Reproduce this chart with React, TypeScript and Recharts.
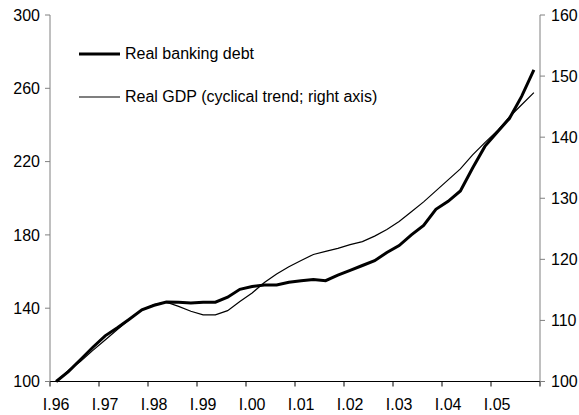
import { LineChart, Line, XAxis, YAxis, Legend } from 'recharts'

const YEARS = ['I.96', 'I.97', 'I.98', 'I.99', 'I.00', 'I.01', 'I.02', 'I.03', 'I.04', 'I.05']

// quarterly, I.96 .. IV.05 (left axis)
const DEBT = [
  100, 105.4, 112, 118.7, 124.9, 129.3, 134.1, 139.1, 141.6, 143.4,
  143.3, 142.8, 143.3, 143.3, 146, 150.3, 151.8, 152.7, 152.7, 154.2,
  155, 155.7, 155, 158, 160.6, 163.3, 165.9, 170.4, 174.2, 180,
  185.2, 194, 198.3, 204, 216.5, 228.3, 236, 243.5, 255.6, 270,
]

// quarterly, right axis
const GDP = [
  100, 101.8, 103.3, 105.1, 106.8, 108.5, 110.2, 111.7, 112.6, 113,
  112.3, 111.5, 110.9, 110.9, 111.6, 113.1, 114.5, 116.2, 117.6, 118.8,
  119.8, 120.8, 121.3, 121.8, 122.4, 122.9, 123.8, 124.9, 126.2, 127.8,
  129.4, 131.2, 133, 134.8, 137.1, 139.1, 141, 143.3, 145.3, 147.3,
]

const LEFT_TICKS = [100, 140, 180, 220, 260, 300]
const RIGHT_TICKS = [100, 110, 120, 130, 140, 150, 160]

const FONT = '"Liberation Sans", Arial, sans-serif'
const W = 579
const H = 415
const LEFT_W = 50
const RIGHT_W = 39
const N = DEBT.length
const HALF_Q = (W - LEFT_W - RIGHT_W) / N / 2

const data = DEBT.map((d, i) => ({ i, debt: d, gdp: GDP[i] }))
// tick marks sit between years, labels go under the first quarter
const xTicks = Array.from({ length: YEARS.length + 1 }, (_, k) => k * 4 - 0.5)

const SERIES_ORDER = ['debt', 'gdp']
const WIDTHS: Record<string, number> = { debt: 3, gdp: 1.2 }

function XTick(props: any) {
  const { x, y, payload } = props
  const label = YEARS[(payload.value + 0.5) / 4] ?? ''
  return (
    <text x={x + HALF_Q} y={y} dy="0.71em" textAnchor="middle" fill="#000" fontSize={16} fontFamily={FONT}>
      {label}
    </text>
  )
}

function LegendBox(props: any) {
  const items = [...(props.payload ?? [])].sort(
    (a: any, b: any) => SERIES_ORDER.indexOf(a.dataKey) - SERIES_ORDER.indexOf(b.dataKey),
  )
  return (
    <div style={{ fontFamily: FONT, fontSize: 16, color: '#000' }}>
      {items.map((p: any) => (
        <div key={p.dataKey} style={{ display: 'flex', alignItems: 'center', height: 43 }}>
          <svg width={46} height={10}>
            <line x1={0} x2={41} y1={5} y2={5} stroke="#000" strokeWidth={WIDTHS[p.dataKey]} />
          </svg>
          <span style={{ whiteSpace: 'nowrap' }}>{p.value}</span>
        </div>
      ))}
    </div>
  )
}

export default function App() {
  return (
    <div style={{ position: 'absolute', left: 0, top: 0, background: '#fff' }}>
      <LineChart width={W} height={H} data={data} margin={{ top: 15, right: 0, left: 0, bottom: 0 }}>
        <XAxis
          dataKey="i"
          type="number"
          domain={[-0.5, N - 0.5]}
          ticks={xTicks}
          tick={<XTick />}
          tickSize={5}
          tickMargin={12}
          height={33.5}
          axisLine={{ stroke: '#000' }}
          tickLine={{ stroke: '#000' }}
          interval={0}
        />
        <YAxis
          yAxisId="left"
          domain={[100, 300]}
          ticks={LEFT_TICKS}
          width={LEFT_W}
          tickSize={5}
          tickMargin={5}
          tick={{ fill: '#000', fontSize: 16, fontFamily: FONT }}
          axisLine={{ stroke: '#808080' }}
          tickLine={{ stroke: '#808080' }}
          interval={0}
        />
        <YAxis
          yAxisId="right"
          orientation="right"
          domain={[100, 160]}
          ticks={RIGHT_TICKS}
          width={RIGHT_W}
          tickSize={5}
          tickMargin={6}
          tick={{ fill: '#000', fontSize: 16, fontFamily: FONT }}
          axisLine={{ stroke: '#808080' }}
          tickLine={{ stroke: '#808080' }}
          interval={0}
        />
        <Legend
          layout="vertical"
          align="center"
          verticalAlign="middle"
          content={<LegendBox />}
          wrapperStyle={{ left: 79, top: 32, width: 320, height: 86 }}
        />
        <Line
          yAxisId="left"
          dataKey="debt"
          name="Real banking debt"
          stroke="#000"
          strokeWidth={3}
          dot={false}
          isAnimationActive={false}
        />
        <Line
          yAxisId="right"
          dataKey="gdp"
          name="Real GDP (cyclical trend; right axis)"
          stroke="#000"
          strokeWidth={1.2}
          dot={false}
          isAnimationActive={false}
        />
      </LineChart>
    </div>
  )
}
